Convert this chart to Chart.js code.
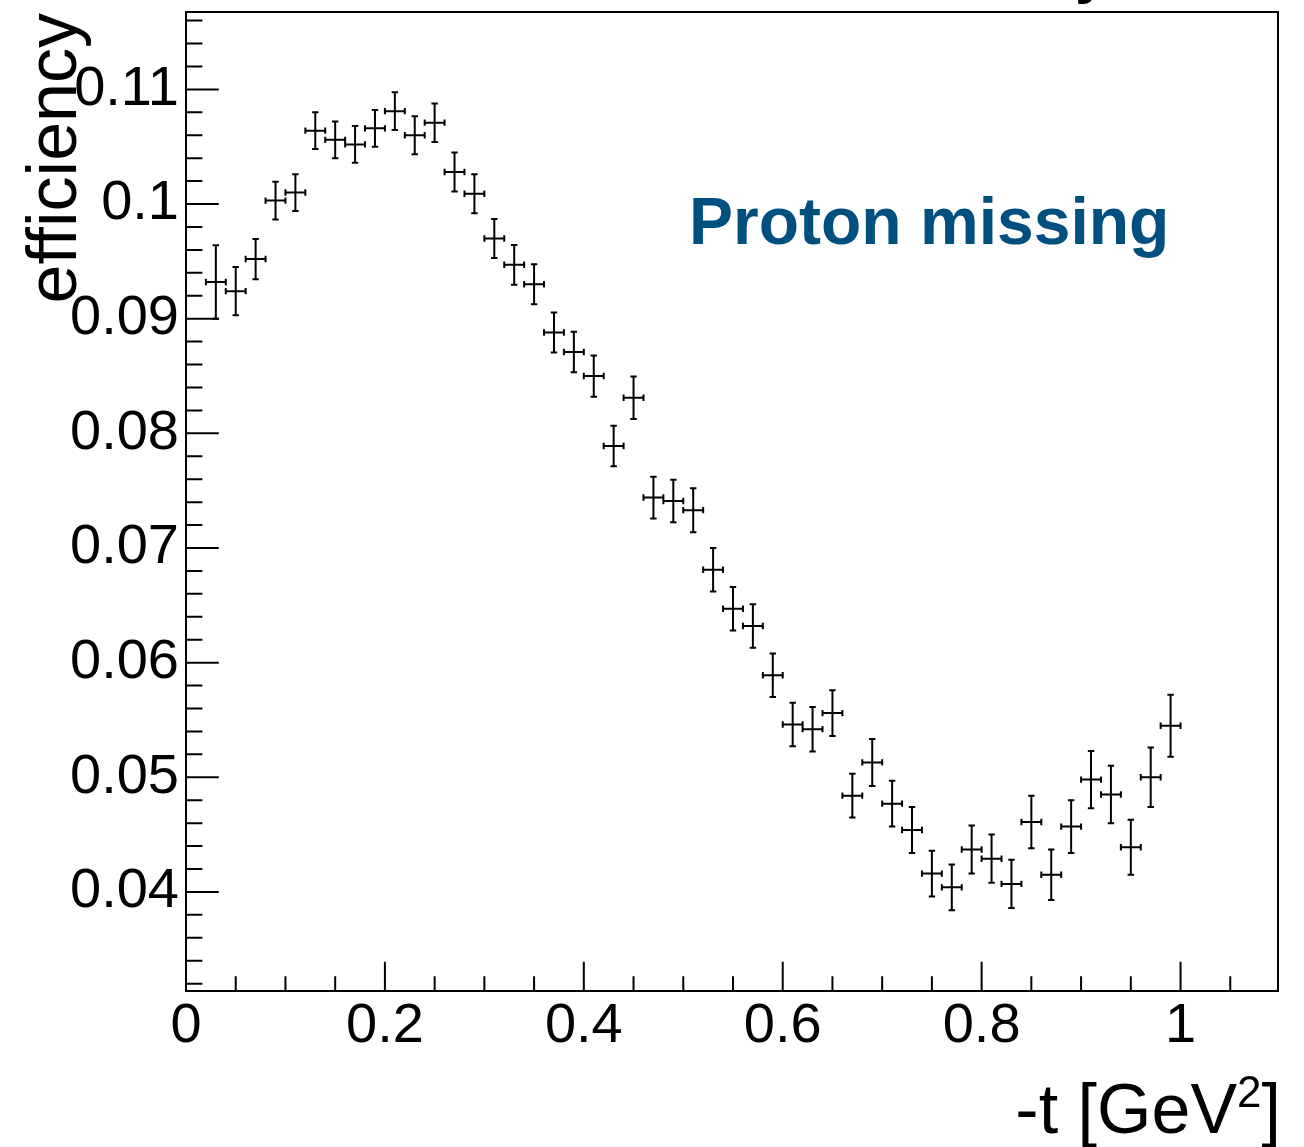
<!DOCTYPE html>
<html><head><meta charset="utf-8">
<script src="https://cdn.jsdelivr.net/npm/chart.js@4"></script>
<style>html,body{margin:0;padding:0;background:#fff;}</style>
</head><body>
<canvas id="c" width="1304" height="1147" style="width:1304px;height:1147px;display:block"></canvas>
<script>
// ---- data ----
const tValues = [0.03,0.05,0.07,0.09,0.11,0.13,0.15,0.17,0.19,0.21,0.23,0.25,0.27,0.29,0.31,0.33,0.35,0.37,0.39,0.41,0.43,0.45,0.47,0.49,0.51,0.53,0.55,0.57,0.59,0.61,0.63,0.65,0.67,0.69,0.71,0.73,0.75,0.77,0.79,0.81,0.83,0.85,0.87,0.89,0.91,0.93,0.95,0.97,0.99];
const efficiency = [0.0932,0.0924,0.0952,0.1003,0.1010,0.1064,0.1056,0.1052,0.1066,0.1081,0.1060,0.1071,0.1028,0.1009,0.0970,0.0947,0.0930,0.0888,0.0871,0.0850,0.0789,0.0831,0.0744,0.0741,0.0733,0.0681,0.0647,0.0632,0.0589,0.0546,0.0542,0.0556,0.0484,0.0513,0.0477,0.0454,0.0416,0.0404,0.0437,0.0429,0.0407,0.0461,0.0415,0.0457,0.0498,0.0485,0.0439,0.0500,0.0545];
const efficiencyError = [0.0032,0.0021,0.00175,0.00165,0.0016,0.0016,0.0016,0.0016,0.0016,0.00165,0.00165,0.00168,0.0017,0.0017,0.0017,0.00173,0.00175,0.00175,0.00177,0.0018,0.00177,0.00186,0.00182,0.00186,0.00192,0.0019,0.0019,0.0019,0.0019,0.0019,0.00194,0.002,0.0019,0.00205,0.002,0.002,0.002,0.002,0.0021,0.0021,0.0021,0.0023,0.0022,0.0023,0.0025,0.0025,0.0024,0.0026,0.0027];
const tBinHalfWidth = [0.01];
const xRange = [0, 1.098];
const yRange = [0.03136, 0.11675];
const xMajorTicks = [0, 0.2, 0.4, 0.6, 0.8, 1.0];
const xMinorStep = [0.05];
const yMajorTicks = [0.04, 0.05, 0.06, 0.07, 0.08, 0.09, 0.1, 0.11];
const yMinorStep = [0.002];
const yTitle = "efficiency";
const xTitle = ["-t [GeV", "2", "]"];
const label = "Proton missing";
const cutTitleTail = "y";

const FONT = "'Liberation Sans', Arial, Helvetica, sans-serif";
const fmt = v => String(Number(v.toFixed(4)));

const rootStyle = {
  id: 'rootStyle',
  afterDraw(chart) {
    const ctx = chart.ctx, xs = chart.scales.x, ys = chart.scales.y, a = chart.chartArea;
    ctx.save();
    ctx.strokeStyle = '#000';
    ctx.lineWidth = 2;
    ctx.lineCap = 'butt';
    // data points with error bars
    const cap = 3.2;
    ctx.beginPath();
    tValues.forEach((t, i) => {
      const px = xs.getPixelForValue(t), py = ys.getPixelForValue(efficiency[i]);
      const xl = xs.getPixelForValue(t - tBinHalfWidth[0]), xr = xs.getPixelForValue(t + tBinHalfWidth[0]);
      const yt = ys.getPixelForValue(efficiency[i] + efficiencyError[i]);
      const yb = ys.getPixelForValue(efficiency[i] - efficiencyError[i]);
      ctx.moveTo(xl, py); ctx.lineTo(xr, py);
      ctx.moveTo(px, yt); ctx.lineTo(px, yb);
      ctx.moveTo(xl, py - cap); ctx.lineTo(xl, py + cap);
      ctx.moveTo(xr, py - cap); ctx.lineTo(xr, py + cap);
      ctx.moveTo(px - cap, yt); ctx.lineTo(px + cap, yt);
      ctx.moveTo(px - cap, yb); ctx.lineTo(px + cap, yb);
    });
    ctx.stroke();
    // frame
    ctx.strokeRect(a.left, a.top, a.right - a.left, a.bottom - a.top);
    // ticks
    const w = a.right - a.left, h = a.bottom - a.top;
    const yMaj = 0.03 * w, yMin = yMaj / 2, xMaj = 0.03 * h, xMin = xMaj / 2;
    ctx.beginPath();
    for (let v = Math.ceil(yRange[0] / yMinorStep[0] - 1e-6) * yMinorStep[0]; v <= yRange[1] + 1e-9; v += yMinorStep[0]) {
      const p = ys.getPixelForValue(v);
      const major = yMajorTicks.some(m => Math.abs(m - v) < 1e-6);
      ctx.moveTo(a.left, p); ctx.lineTo(a.left + (major ? yMaj : yMin), p);
    }
    for (let v = Math.ceil(xRange[0] / xMinorStep[0] - 1e-6) * xMinorStep[0]; v <= xRange[1] + 1e-9; v += xMinorStep[0]) {
      const p = xs.getPixelForValue(v);
      if (v < 1e-6) continue;
      const major = xMajorTicks.some(m => Math.abs(m - v) < 1e-6);
      ctx.moveTo(p, a.bottom); ctx.lineTo(p, a.bottom - (major ? xMaj : xMin));
    }
    ctx.stroke();
    // titles
    ctx.fillStyle = '#000';
    ctx.save();
    ctx.translate(76, a.top + 1);
    ctx.rotate(-Math.PI / 2);
    ctx.font = `70px ${FONT}`;
    ctx.textAlign = 'right';
    ctx.textBaseline = 'alphabetic';
    ctx.fillText(yTitle, 0, 0);
    ctx.restore();
    // cut-off title tail at the top edge
    ctx.textAlign = 'left';
    ctx.textBaseline = 'alphabetic';
    ctx.font = `bold 60px ${FONT}`;
    ctx.fillText(cutTitleTail, 1075, -8);
    // x title, right aligned at frame right
    ctx.font = `70px ${FONT}`;
    const w1 = ctx.measureText(xTitle[0]).width, w3 = ctx.measureText(xTitle[2]).width;
    ctx.font = `44px ${FONT}`;
    const w2 = ctx.measureText(xTitle[1]).width;
    const right = a.right + 3, base = 1133;
    let x0 = right - w1 - w2 - w3;
    ctx.font = `70px ${FONT}`;
    ctx.fillText(xTitle[0], x0, base);
    ctx.font = `44px ${FONT}`;
    ctx.fillText(xTitle[1], x0 + w1, base - 26);
    ctx.font = `70px ${FONT}`;
    ctx.fillText(xTitle[2], x0 + w1 + w2, base);
    // label
    ctx.fillStyle = '#00507f';
    ctx.font = `bold 66px ${FONT}`;
    ctx.fillText(label, 689, 244);
    ctx.restore();
  }
};

new Chart(document.getElementById('c'), {
  type: 'scatter',
  data: { datasets: [{ data: tValues.map((t, i) => ({ x: t, y: efficiency[i] })), pointRadius: 0, showLine: false }] },
  options: {
    responsive: false, animation: false, devicePixelRatio: 1,
    layout: { padding: { left: 0, right: 26, top: 12, bottom: 0 } },
    plugins: { legend: { display: false }, tooltip: { enabled: false }, title: { display: false } },
    scales: {
      x: {
        type: 'linear', min: xRange[0], max: xRange[1],
        afterFit(s) { s.height = 156; s.paddingLeft = 0; s.paddingRight = 0; },
        grid: { display: false, drawTicks: false }, border: { display: false },
        ticks: { stepSize: 0.2, includeBounds: false, padding: 8, color: '#000', maxRotation: 0, autoSkip: false,
          font: { family: FONT, size: 56, lineHeight: 1 }, callback: v => fmt(v) }
      },
      y: {
        type: 'linear', min: yRange[0], max: yRange[1],
        afterFit(s) { s.width = 186; s.paddingTop = 0; s.paddingBottom = 0; },
        grid: { display: false, drawTicks: false }, border: { display: false },
        ticks: { stepSize: 0.01, includeBounds: false, padding: 7, color: '#000', autoSkip: false,
          font: { family: FONT, size: 56, lineHeight: 1 }, callback: v => fmt(v) }
      }
    }
  },
  plugins: [rootStyle]
});
</script>
</body></html>
